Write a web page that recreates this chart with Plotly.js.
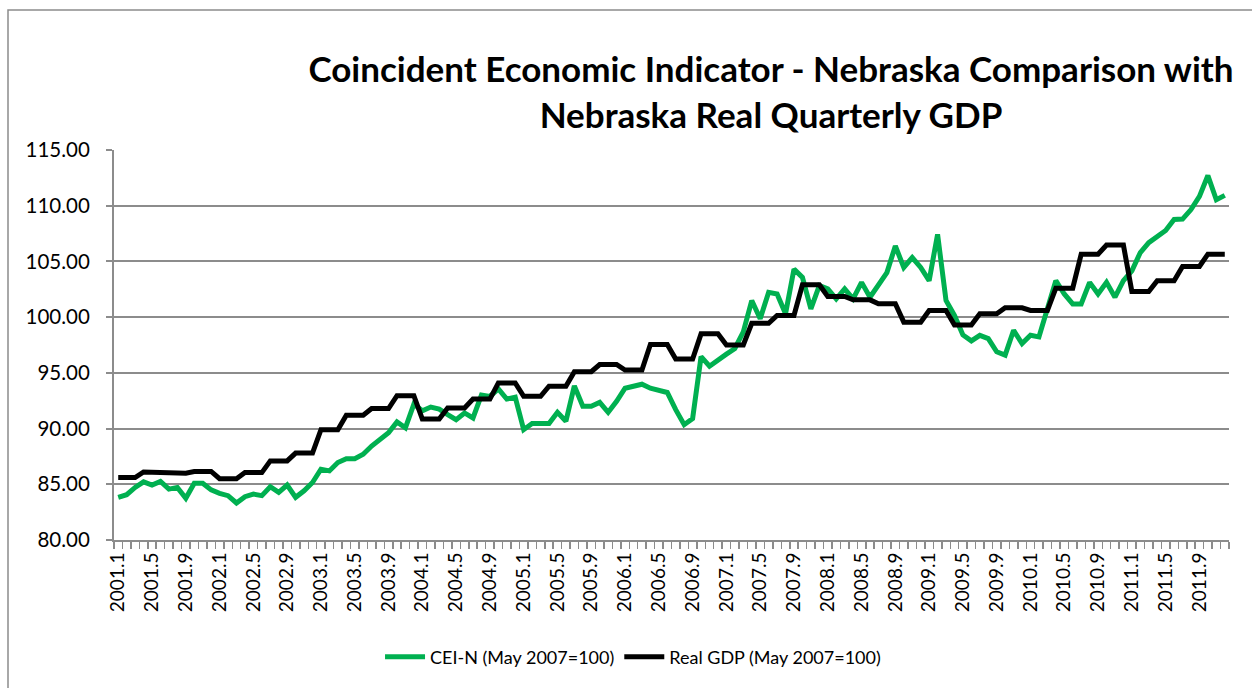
<!DOCTYPE html>
<html>
<head>
<meta charset="utf-8">
<script src="https://cdn.plot.ly/plotly-3.0.1.min.js"></script>
<style>
html,body{margin:0;padding:0;background:#fff;}
#chart{width:1252px;height:688px;}
</style>
</head>
<body>
<div id="chart"></div>
<script>
// Years and months of the monthly categories (2001.1 ... 2011.12)
const years = [2001,2002,2003,2004,2005,2006,2007,2008,2009,2010,2011];
const months = [1,2,3,4,5,6,7,8,9,10,11,12];
const categories = [];
years.forEach(y => months.forEach(m => categories.push(y + '.' + m)));

// Tick labels shown on the axis (every 4th month)
const tickLabels = ['2001.1','2001.5','2001.9','2002.1','2002.5','2002.9','2003.1','2003.5','2003.9',
  '2004.1','2004.5','2004.9','2005.1','2005.5','2005.9','2006.1','2006.5','2006.9','2007.1','2007.5',
  '2007.9','2008.1','2008.5','2008.9','2009.1','2009.5','2009.9','2010.1','2010.5','2010.9','2011.1',
  '2011.5','2011.9'];

// CEI-N (May 2007=100), monthly
const ceiN = [
  83.83,84.07,84.72,85.22,84.93,85.25,84.57,84.72,83.74,85.10,85.10,84.50,
  84.19,83.98,83.32,83.89,84.12,83.98,84.78,84.27,84.93,83.83,84.42,85.16,
  86.35,86.20,86.95,87.30,87.30,87.69,88.43,89.02,89.62,90.60,90.06,92.20,
  91.60,91.93,91.75,91.25,90.80,91.40,90.95,93.00,92.88,93.56,92.65,92.82,
  89.90,90.45,90.45,90.45,91.46,90.66,93.83,92.00,92.00,92.35,91.46,92.44,
  93.62,93.77,93.98,93.62,93.47,93.24,91.70,90.35,90.90,96.45,95.60,96.20,
  96.68,97.19,98.67,101.49,99.86,102.23,102.08,100.30,104.31,103.57,100.75,102.83,
  102.53,101.64,102.53,101.64,103.12,101.79,102.97,104.00,106.39,104.46,105.35,104.46,
  103.27,107.43,101.49,100.15,98.40,97.87,98.37,98.07,96.89,96.59,98.82,97.63,
  98.37,98.23,100.75,103.27,102.08,101.19,101.19,103.12,102.08,103.12,101.79,103.27,
  104.16,105.80,106.69,107.28,107.78,108.76,108.80,109.65,110.84,112.71,110.54,110.93
];

// Real GDP (May 2007=100), monthly (quarterly level repeated within each quarter)
const realGDP = [
  85.60,85.60,85.60,86.10,86.10,86.10,86.00,86.00,86.00,86.15,86.15,86.15,
  85.50,85.50,85.50,86.05,86.05,86.05,87.10,87.10,87.10,87.80,87.80,87.80,
  89.90,89.90,89.90,91.20,91.20,91.20,91.80,91.80,91.80,92.95,92.95,92.95,
  90.85,90.85,90.85,91.85,91.85,91.85,92.65,92.65,92.65,94.10,94.10,94.10,
  92.90,92.90,92.90,93.80,93.80,93.80,95.10,95.10,95.10,95.75,95.75,95.75,
  95.25,95.25,95.25,97.55,97.55,97.55,96.25,96.25,96.25,98.50,98.50,98.50,
  97.50,97.50,97.50,99.45,99.45,99.45,100.15,100.15,100.15,102.90,102.90,102.90,
  101.85,101.85,101.85,101.55,101.55,101.55,101.20,101.20,101.20,99.55,99.55,99.55,
  100.60,100.60,100.60,99.30,99.30,99.30,100.30,100.30,100.30,100.84,100.84,100.84,
  100.60,100.60,100.60,102.60,102.60,102.60,105.65,105.65,105.65,106.47,106.47,106.47,
  102.30,102.30,102.30,103.27,103.27,103.27,104.55,104.55,104.55,105.65,105.65,105.65
];

const xIdx = categories.map((c, i) => i);
const tickIdx = tickLabels.map(t => categories.indexOf(t));

const FONT = 'Lato, "Open Sans", sans-serif';
const GRID = '#8c8c8c';

const traces = [
  {x: xIdx, y: ceiN, customdata: categories, type: 'scatter', mode: 'lines',
   name: 'CEI-N (May 2007=100)', line: {color: '#00B050', width: 5}},
  {x: xIdx, y: realGDP, customdata: categories, type: 'scatter', mode: 'lines',
   name: 'Real GDP (May 2007=100)', line: {color: '#000000', width: 5}}
];

const layout = {
  width: 1252, height: 688,
  paper_bgcolor: '#ffffff', plot_bgcolor: '#ffffff',
  margin: {l: 114, r: 23, t: 150, b: 145, pad: 0},
  font: {family: FONT, color: '#000'},
  title: {
    text: '<b>Coincident Economic Indicator - Nebraska Comparison with<br>Nebraska Real Quarterly GDP</b>',
    x: 771/1252, xanchor: 'center', xref: 'container',
    y: 1 - 82/688, yanchor: 'top', yref: 'container',
    font: {family: FONT, size: 35, color: '#000'}
  },
  xaxis: {
    type: 'linear', range: [-0.5, 131.5], fixedrange: true,
    tickmode: 'array', tickvals: tickIdx, ticktext: tickLabels,
    tickangle: -90, ticks: '', showgrid: false, zeroline: false,
    showline: true, linecolor: GRID, linewidth: 2, ticklabelstandoff: 3,
    tickfont: {family: FONT, size: 19, color: '#000'},
    minor: {tickmode: 'linear', tick0: -0.5, dtick: 1, ticks: 'outside', ticklen: 7,
            tickcolor: GRID, tickwidth: 1.5, showgrid: false}
  },
  yaxis: {
    range: [80, 115], tickmode: 'linear', tick0: 80, dtick: 5, tickformat: '.2f',
    showgrid: true, gridcolor: GRID, gridwidth: 2, zeroline: false,
    showline: true, linecolor: GRID, linewidth: 2,
    ticks: 'outside', ticklen: 6, tickcolor: GRID, tickwidth: 2, ticklabelstandoff: 12,
    tickfont: {family: FONT, size: 20.5, color: '#000'}
  },
  showlegend: true,
  legend: {
    orientation: 'h', x: 0.4655, xanchor: 'center', y: -0.30, yanchor: 'middle',
    font: {family: FONT, size: 18, color: '#000'}, bgcolor: 'rgba(0,0,0,0)',
    itemwidth: 40, tracegroupgap: 0
  },
  shapes: [{
    type: 'rect', xref: 'paper', yref: 'paper',
    x0: (8 - 114)/1115, x1: 1.3, y0: -0.5, y1: (543 - 9)/393,
    line: {color: '#8c8c8c', width: 1.5}, fillcolor: 'rgba(0,0,0,0)', layer: 'below'
  }]
};

Plotly.newPlot('chart', traces, layout, {displayModeBar: false, staticPlot: true});
</script>
</body>
</html>
